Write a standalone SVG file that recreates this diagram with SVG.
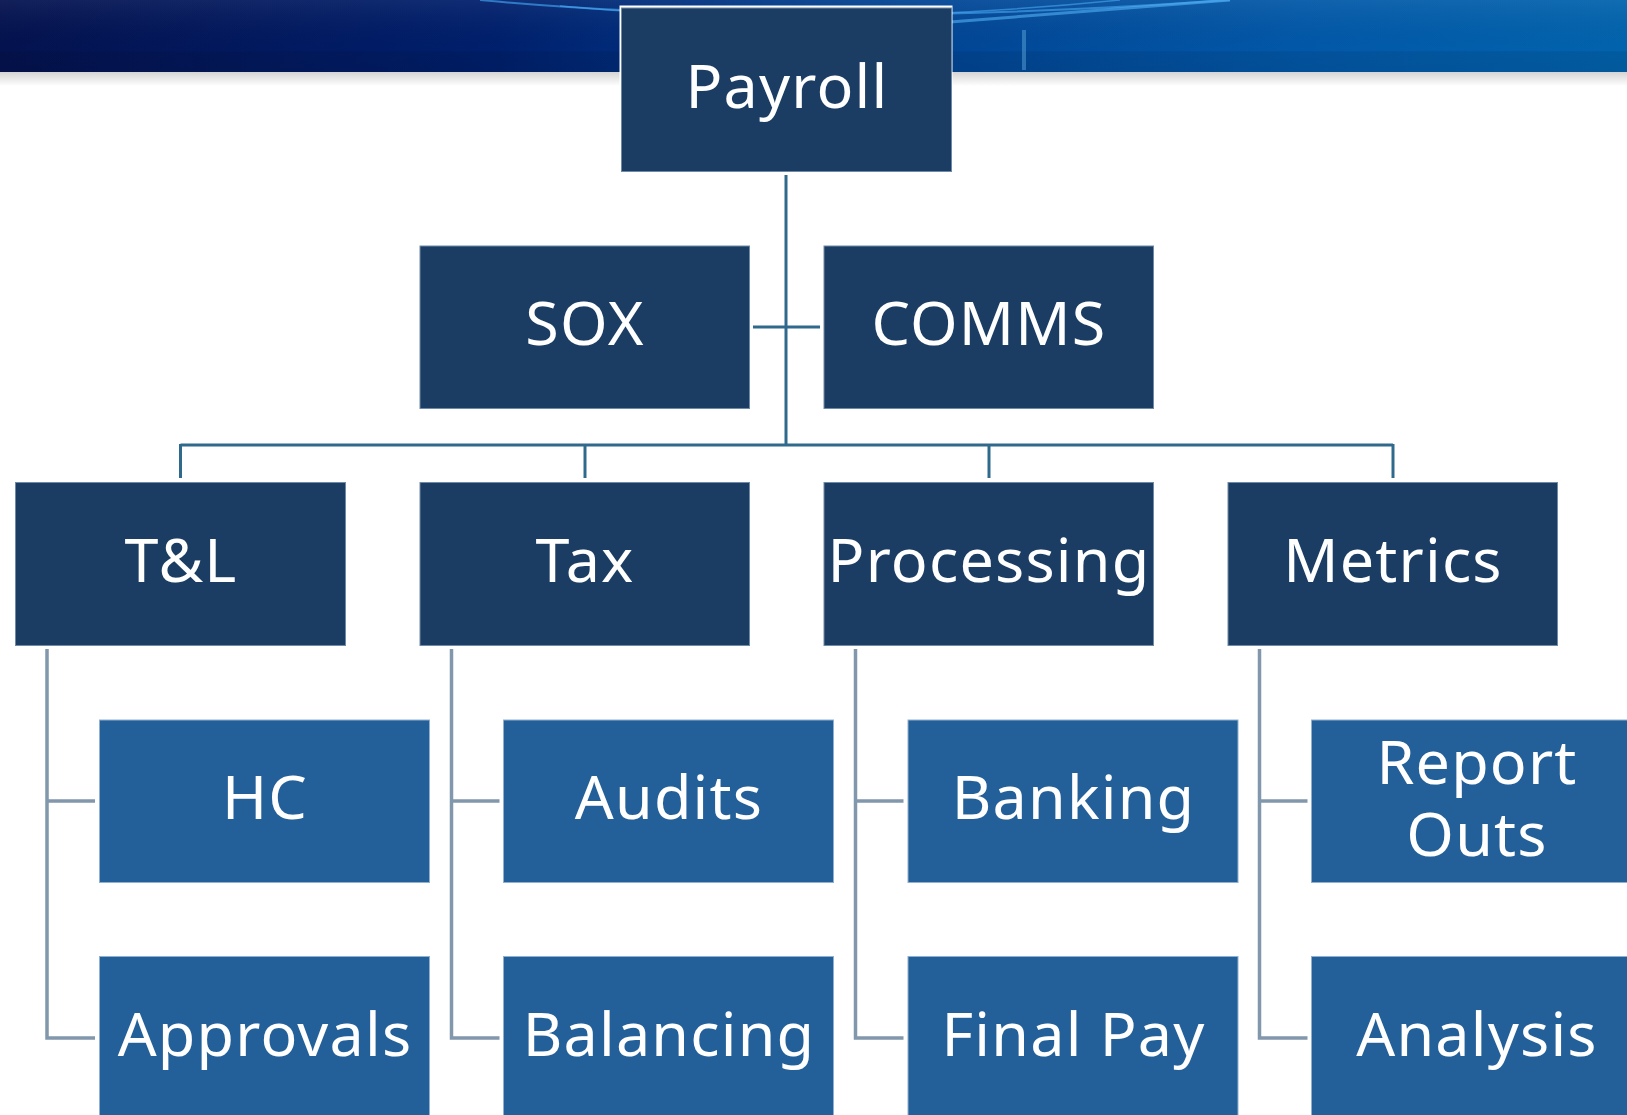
<svg xmlns="http://www.w3.org/2000/svg" width="1627" height="1115" viewBox="0 0 1627 1115">
  <defs>
    <linearGradient id="banner" x1="0" y1="0" x2="1" y2="0">
      <stop offset="0" stop-color="#04124f"/>
      <stop offset="0.3" stop-color="#001f6c"/>
      <stop offset="0.55" stop-color="#014393"/>
      <stop offset="0.8" stop-color="#0258a8"/>
      <stop offset="1" stop-color="#0263ad"/>
    </linearGradient>
    <linearGradient id="bannerShade" x1="0" y1="0" x2="0" y2="1">
      <stop offset="0" stop-color="#ffffff" stop-opacity="0.06"/>
      <stop offset="0.7" stop-color="#000000" stop-opacity="0"/>
      <stop offset="0.72" stop-color="#000000" stop-opacity="0.08"/>
      <stop offset="1" stop-color="#000000" stop-opacity="0.1"/>
    </linearGradient>
    <linearGradient id="shadow" x1="0" y1="0" x2="0" y2="1">
      <stop offset="0" stop-color="#d4d4d4"/>
      <stop offset="1" stop-color="#ffffff"/>
    </linearGradient>
    <style>
      .top { fill: #1b3d64; stroke: #6f8aa6; stroke-width: 1; }
      .sub { fill: #236099; stroke: #8fb0cf; stroke-width: 1; }
      .lbl { fill: #ffffff; font-family: "Noto Sans", "Open Sans", sans-serif; font-size: 61px; letter-spacing: 1.2px; text-anchor: middle; }
      .bus { stroke: #2f6a8d; stroke-width: 3; fill: none; }
      .leg { stroke: #8197ac; stroke-width: 3.5; fill: none; }
    </style>
  </defs>

  <rect x="0" y="0" width="1627" height="1115" fill="#ffffff"/>

  <g id="banner-bg">
    <rect x="0" y="0" width="1627" height="72" fill="url(#banner)"/>
    <rect x="0" y="0" width="1627" height="72" fill="url(#bannerShade)"/>
    <path d="M480 0 Q 800 30 1230 0" stroke="#3f9be8" stroke-width="2" fill="none" opacity="0.7"/>
    <path d="M560 6 Q 820 30 1120 0" stroke="#4aa8f0" stroke-width="1.5" fill="none" opacity="0.6"/>
    <path d="M950 22 Q 1080 12 1230 0" stroke="#52b0f5" stroke-width="3" fill="none" opacity="0.6"/>
    <rect x="1022" y="30" width="4" height="40" fill="#5aa3d8" opacity="0.5"/>
    <rect x="0" y="72" width="1627" height="14" fill="url(#shadow)"/>
  </g>

  <g id="connectors">
    <line class="bus" x1="786" y1="175" x2="786" y2="446"/>
    <line class="bus" x1="753" y1="327" x2="820" y2="327"/>
    <line class="bus" x1="180.5" y1="445" x2="1393" y2="445"/>
    <line class="bus" x1="180.5" y1="444" x2="180.5" y2="478"/>
    <line class="bus" x1="585" y1="445" x2="585" y2="478"/>
    <line class="bus" x1="989" y1="445" x2="989" y2="478"/>
    <line class="bus" x1="1393" y1="444" x2="1393" y2="478"/>
    <path class="leg" d="M47 649 V1038 H95 M47 801 H95"/>
    <path class="leg" d="M451.5 649 V1038 H499.5 M451.5 801 H499.5"/>
    <path class="leg" d="M855.5 649 V1038 H903.5 M855.5 801 H903.5"/>
    <path class="leg" d="M1259.5 649 V1038 H1307.5 M1259.5 801 H1307.5"/>
  </g>

  <g id="node-payroll">
    <rect x="619.5" y="5.5" width="333" height="167" fill="#ffffff"/>
    <rect class="top" x="621.5" y="8" width="330" height="163.5"/>
    <text class="lbl" x="787" y="108">Payroll</text>
  </g>

  <g id="node-sox">
    <rect class="top" x="420" y="246" width="329.5" height="162.5"/>
    <text class="lbl" x="585" y="345">SOX</text>
  </g>
  <g id="node-comms">
    <rect class="top" x="824" y="246" width="329.5" height="162.5"/>
    <text class="lbl" x="989" y="345">COMMS</text>
  </g>

  <g id="node-tl">
    <rect class="top" x="15.5" y="482.5" width="330" height="163"/>
    <text class="lbl" x="181" y="582">T&amp;L</text>
  </g>
  <g id="node-tax">
    <rect class="top" x="420" y="482.5" width="329.5" height="163"/>
    <text class="lbl" x="585" y="582">Tax</text>
  </g>
  <g id="node-processing">
    <rect class="top" x="824" y="482.5" width="329.5" height="163"/>
    <text class="lbl" x="989" y="582">Processing</text>
  </g>
  <g id="node-metrics">
    <rect class="top" x="1228" y="482.5" width="329.5" height="163"/>
    <text class="lbl" x="1393" y="582">Metrics</text>
  </g>

  <g id="node-hc">
    <rect class="sub" x="99.5" y="720" width="330" height="162.5"/>
    <text class="lbl" x="265" y="819">HC</text>
  </g>
  <g id="node-approvals">
    <rect class="sub" x="99.5" y="956.5" width="330" height="170"/>
    <text class="lbl" x="265" y="1056">Approvals</text>
  </g>
  <g id="node-audits">
    <rect class="sub" x="503.5" y="720" width="330" height="162.5"/>
    <text class="lbl" x="669" y="819">Audits</text>
  </g>
  <g id="node-balancing">
    <rect class="sub" x="503.5" y="956.5" width="330" height="170"/>
    <text class="lbl" x="669" y="1056">Balancing</text>
  </g>
  <g id="node-banking">
    <rect class="sub" x="908" y="720" width="330" height="162.5"/>
    <text class="lbl" x="1073.5" y="819">Banking</text>
  </g>
  <g id="node-finalpay">
    <rect class="sub" x="908" y="956.5" width="330" height="170"/>
    <text class="lbl" x="1073.5" y="1056">Final Pay</text>
  </g>
  <g id="node-reportouts">
    <rect class="sub" x="1311.5" y="720" width="330" height="162.5"/>
    <text class="lbl"><tspan x="1477" y="784">Report</tspan><tspan x="1477" y="856">Outs</tspan></text>
  </g>
  <g id="node-analysis">
    <rect class="sub" x="1311.5" y="956.5" width="330" height="170"/>
    <text class="lbl" x="1477" y="1056">Analysis</text>
  </g>
</svg>
